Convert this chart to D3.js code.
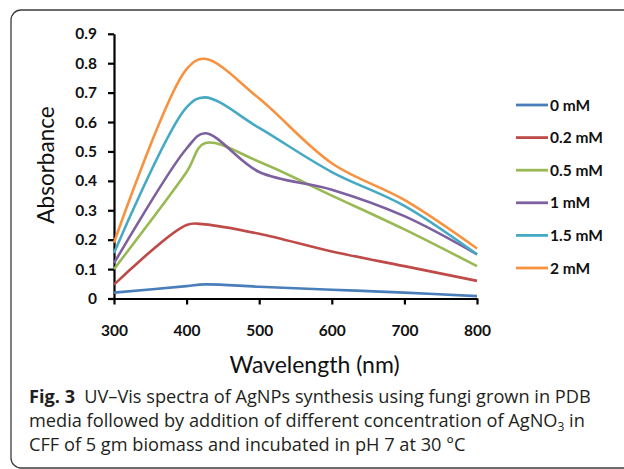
<!DOCTYPE html>
<html>
<head>
<meta charset="utf-8">
<script src="https://cdn.jsdelivr.net/npm/d3@7"></script>
<style>
  html, body { margin: 0; padding: 0; background: #fff; }
  svg { display: block; }
</style>
</head>
<body>
<svg id="chart" width="624" height="469"></svg>
<script>
// Wavelengths (nm) at which absorbance was recorded
const wavelengths = [300, 400, 425, 500, 600, 700, 800];

// Absorbance for each AgNO3 concentration
const abs0mM   = [0.020, 0.042, 0.048, 0.040, 0.030, 0.020, 0.008];
const abs02mM  = [0.047, 0.250, 0.252, 0.220, 0.160, 0.110, 0.060];
const abs05mM  = [0.100, 0.430, 0.528, 0.465, 0.350, 0.235, 0.110];
const abs1mM   = [0.120, 0.510, 0.562, 0.430, 0.370, 0.280, 0.150];
const abs15mM  = [0.155, 0.650, 0.684, 0.580, 0.430, 0.315, 0.150];
const abs2mM   = [0.190, 0.780, 0.815, 0.680, 0.460, 0.335, 0.170];

const seriesNames = ["0 mM", "0.2 mM", "0.5 mM", "1 mM", "1.5 mM", "2 mM"];
const seriesValues = [abs0mM, abs02mM, abs05mM, abs1mM, abs15mM, abs2mM];
const seriesColors = ["#4a7ebb", "#be4b48", "#98b954", "#7d60a0", "#46aac5", "#f69240"];

const xTicks = [300, 400, 500, 600, 700, 800];
const yTicks = [0, 0.1, 0.2, 0.3, 0.4, 0.5, 0.6, 0.7, 0.8, 0.9];

const svg = d3.select("#chart");

// Figure frame with rounded corners
svg.append("rect")
  .attr("x", 11).attr("y", 10)
  .attr("width", 700).attr("height", 458)
  .attr("rx", 10).attr("ry", 10)
  .attr("fill", "none")
  .attr("stroke", "#3c3c3c")
  .attr("stroke-width", 1.3);

const plot = { left: 114, right: 477, top: 33.8, bottom: 298.5 };

const x = d3.scaleLinear().domain([300, 800]).range([plot.left, plot.right]);
const y = d3.scaleLinear().domain([0, 0.9]).range([plot.bottom, plot.top]);

const tickFont = "Lato, 'DejaVu Sans', sans-serif";

// Axes
const xAxis = svg.append("g")
  .attr("transform", `translate(0,${plot.bottom})`)
  .call(d3.axisBottom(x).tickValues(xTicks).tickFormat(d3.format("d")).tickSize(6).tickPadding(20).tickSizeOuter(0));
const yAxis = svg.append("g")
  .attr("transform", `translate(${plot.left},0)`)
  .call(d3.axisLeft(y).tickValues(yTicks).tickFormat(d => d === 0 ? "0" : d3.format(".1f")(d)).tickSize(6).tickPadding(11).tickSizeOuter(0));

[xAxis, yAxis].forEach(g => {
  g.select(".domain").attr("stroke", "#000").attr("stroke-width", 2.2);
  g.selectAll(".tick line").attr("stroke", "#000").attr("stroke-width", 2.2);
  g.selectAll(".tick text")
    .attr("fill", "#111")
    .style("font-family", tickFont)
    .style("font-weight", "700")
    .style("font-size", "15.5px");
});

// Axis titles
svg.append("text")
  .attr("transform", `translate(54,165) rotate(-90)`)
  .attr("text-anchor", "middle")
  .style("font-family", tickFont)
  .style("font-size", "22.5px")
  .attr("fill", "#111")
  .text("Absorbance");

svg.append("text")
  .attr("x", 314.5).attr("y", 373)
  .attr("text-anchor", "middle")
  .style("font-family", tickFont)
  .style("font-size", "23px")
  .attr("fill", "#111")
  .text("Wavelength (nm)");

// Spectra
const line = d3.line()
  .x((d, i) => x(wavelengths[i]))
  .y(d => y(d))
  .curve(d3.curveCatmullRom.alpha(0.5));

svg.append("g").selectAll("path")
  .data(seriesValues)
  .join("path")
  .attr("d", d => line(d))
  .attr("fill", "none")
  .attr("stroke", (d, i) => seriesColors[i])
  .attr("stroke-width", 2.6)
  .attr("stroke-linejoin", "round");

// Legend
const legend = svg.append("g");
const legendY = d3.scaleLinear().domain([0, 5]).range([105, 268]);
seriesNames.forEach((name, i) => {
  const ly = legendY(i);
  legend.append("line")
    .attr("x1", 516).attr("x2", 548)
    .attr("y1", ly).attr("y2", ly)
    .attr("stroke", seriesColors[i])
    .attr("stroke-width", 2.8);
  legend.append("text")
    .attr("x", 550).attr("y", ly)
    .attr("dy", "0.36em")
    .style("font-family", tickFont)
    .style("font-weight", "700")
    .style("font-size", "15.5px")
    .attr("fill", "#111")
    .text(name);
});

// Figure caption
const capFont = "'Open Sans', 'Noto Sans', sans-serif";
const cap = svg.append("g")
  .style("font-family", capFont)
  .style("font-size", "18.2px")
  .attr("fill", "#231f20");

const l1 = cap.append("text").attr("x", 29).attr("y", 402.5);
l1.append("tspan").style("font-weight", "700").text("Fig. 3");
l1.append("tspan").text("\u2002UV\u2013Vis spectra of AgNPs synthesis using fungi grown in PDB");

const l2 = cap.append("text").attr("x", 29).attr("y", 426.7);
l2.append("tspan").text("media followed by addition of different concentration of AgNO");
l2.append("tspan").attr("dy", 4).style("font-size", "12px").text("3");
l2.append("tspan").attr("dy", -4).text(" in");

cap.append("text").attr("x", 29).attr("y", 451)
  .text("CFF of 5 gm biomass and incubated in pH 7 at 30 \u00b0C");
</script>
</body>
</html>
